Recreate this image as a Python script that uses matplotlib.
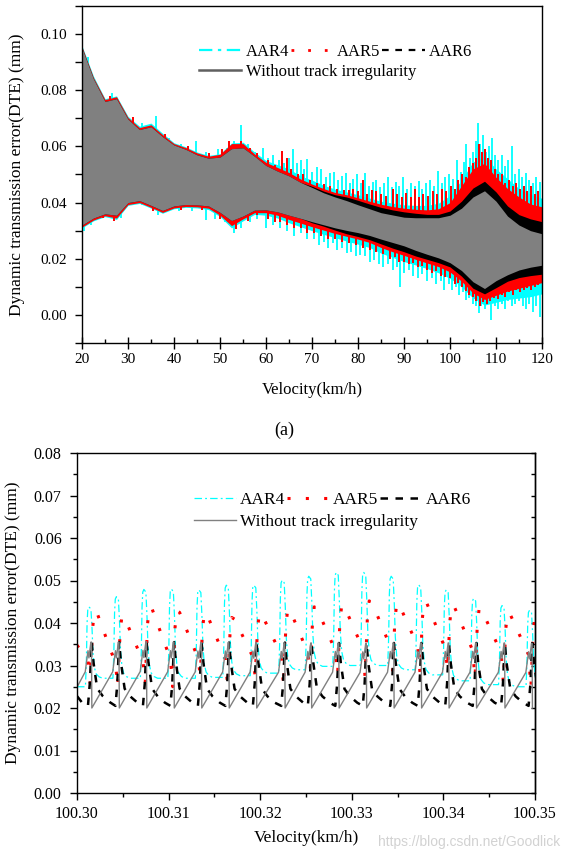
import numpy as np
import matplotlib
matplotlib.use("Agg")
import matplotlib.pyplot as plt
from matplotlib.lines import Line2D
from matplotlib.ticker import MultipleLocator, FormatStrFormatter

plt.rcParams['font.family'] = ['Liberation Serif', 'DejaVu Serif']

# ---------------- Panel (a): envelopes ----------------
vel = [20, 22.5, 25, 27.5, 30, 32.5, 35, 37.5, 40, 42.5, 45, 47.5, 50, 52.5, 55, 57.5,
       60, 62.5, 65, 67.5, 70, 72.5, 75, 77.5, 80, 82.5, 85, 87.5, 90, 92.5, 95, 97.5,
       100, 102.5, 105, 107.5, 110, 112.5, 115, 117.5, 120]

gray_hi = [0.095, 0.084, 0.076, 0.077, 0.0697, 0.066, 0.067, 0.0635, 0.0605, 0.059, 0.057,
           0.0558, 0.0562, 0.0592, 0.0595, 0.0565, 0.0532, 0.0512, 0.0495, 0.0472, 0.0454,
           0.0435, 0.042, 0.0407, 0.0392, 0.0378, 0.0364, 0.0356, 0.0348, 0.0346, 0.0346,
           0.0346, 0.0355, 0.038, 0.042, 0.0442, 0.0405, 0.0352, 0.032, 0.030, 0.0289]
gray_lo = [0.032, 0.0345, 0.036, 0.0355, 0.040, 0.0407, 0.039, 0.0372, 0.0388, 0.0393, 0.0392,
           0.0388, 0.0365, 0.0336, 0.0352, 0.0373, 0.0374, 0.0367, 0.0355, 0.0344, 0.0332,
           0.0321, 0.031, 0.0301, 0.0293, 0.0283, 0.027, 0.0258, 0.0246, 0.0230, 0.0216,
           0.0203, 0.0186, 0.0158, 0.0118, 0.0094, 0.0122, 0.0143, 0.016, 0.017, 0.0177]

aar6_hi = [0.095, 0.084, 0.076, 0.077, 0.0697, 0.066, 0.067, 0.0635, 0.0605, 0.059, 0.057,
           0.0558, 0.0562, 0.0592, 0.0595, 0.0565, 0.0532, 0.0512, 0.0495, 0.0472, 0.0458,
           0.0441, 0.0428, 0.042, 0.0408, 0.0395, 0.0383, 0.0374, 0.0367, 0.0362, 0.0358,
           0.0358, 0.037, 0.0405, 0.0452, 0.0476, 0.0438, 0.0388, 0.0357, 0.0342, 0.0332]
aar6_lo = [0.032, 0.0345, 0.036, 0.0355, 0.040, 0.0407, 0.039, 0.0372, 0.0388, 0.0393, 0.0392,
           0.0388, 0.0365, 0.0336, 0.0352, 0.0373, 0.0374, 0.0367, 0.0355, 0.0344, 0.0328,
           0.0316, 0.0302, 0.0289, 0.0279, 0.0268, 0.0253, 0.0238, 0.0225, 0.021, 0.0198,
           0.0186, 0.0171, 0.0138, 0.0095, 0.0075, 0.0097, 0.012, 0.0133, 0.014, 0.0145]

aar5_hi = [0.0955, 0.0845, 0.0767, 0.0777, 0.0703, 0.0667, 0.0677, 0.0642, 0.061, 0.0596, 0.0577,
           0.0565, 0.0572, 0.061, 0.061, 0.0573, 0.0543, 0.0525, 0.0507, 0.0484, 0.0466,
           0.0450, 0.0436, 0.0428, 0.0417, 0.0405, 0.0394, 0.0386, 0.0380, 0.0376, 0.0374,
           0.0378, 0.040, 0.046, 0.052, 0.054, 0.049, 0.045, 0.042, 0.0395, 0.0385]
aar5_lo = [0.0313, 0.0338, 0.0353, 0.0345, 0.0393, 0.040, 0.0383, 0.0365, 0.0381, 0.0386, 0.0385,
           0.038, 0.0355, 0.0318, 0.0342, 0.0364, 0.0364, 0.0355, 0.034, 0.0327, 0.0314,
           0.0302, 0.029, 0.028, 0.027, 0.0258, 0.024, 0.0225, 0.0212, 0.0198, 0.0185,
           0.0172, 0.0153, 0.012, 0.0078, 0.0055, 0.007, 0.0085, 0.0095, 0.0105, 0.0115]

aar4_hi = [0.0958, 0.085, 0.077, 0.078, 0.0707, 0.0672, 0.0683, 0.0647, 0.0613, 0.0599, 0.058,
           0.0568, 0.0574, 0.0612, 0.0615, 0.058, 0.055, 0.0535, 0.052, 0.0495, 0.048,
           0.0462, 0.0448, 0.0438, 0.0428, 0.0416, 0.0405, 0.0398, 0.0392, 0.0390, 0.0390,
           0.0398, 0.0425, 0.048, 0.0545, 0.0565, 0.052, 0.0485, 0.045, 0.043, 0.0415]
aar4_lo = [0.031, 0.0335, 0.035, 0.034, 0.039, 0.0397, 0.038, 0.0362, 0.0378, 0.0383, 0.0381,
           0.0375, 0.035, 0.031, 0.0335, 0.0358, 0.0355, 0.0345, 0.0328, 0.0314, 0.030,
           0.0287, 0.0275, 0.0263, 0.0252, 0.024, 0.022, 0.0205, 0.019, 0.0178, 0.0165,
           0.015, 0.013, 0.010, 0.006, 0.0035, 0.0045, 0.0055, 0.006, 0.0065, 0.0075]

# isolated spikes (velocity, value)
aar4_spk_hi_x = [21.3, 23.5, 26.5, 29, 33, 36.0, 39, 41.5, 44.8, 47, 49.5, 51.5, 53, 54.6,
                 56.0, 57.5, 59.4, 60.5, 61.5, 62.8, 64.0, 65.0, 65.9, 66.8, 67.5, 68.3, 69.0,
                 70.0, 71.0, 72.0, 73.0, 74.0, 74.8, 75.7, 76.5, 77.3, 78.2, 79.0, 79.8, 80.7,
                 81.5, 82.3, 83.2, 84.0, 84.8, 85.7, 86.5, 87.3, 88.2, 89.0, 89.8, 90.7, 91.5,
                 92.3, 93.2, 94.0, 94.8, 95.7, 96.5, 97.3, 98.2, 99.0, 99.8, 100.7, 101.5, 102.3,
                 103.0, 103.5, 104.3, 105.0, 105.6, 106.0, 106.6, 107.2, 107.8, 108.5, 109.2,
                 109.8, 110.5, 111.2, 112.0, 112.7, 113.5, 114.2, 115.0, 115.7, 116.5, 117.2,
                 118.0, 118.7, 119.5]
aar4_spk_hi_y = [0.092, 0.081, 0.079, 0.073, 0.0685, 0.071, 0.063, 0.061, 0.062, 0.058, 0.059,
                 0.0595, 0.062, 0.0675,
                 0.061, 0.058, 0.0596, 0.056, 0.057, 0.055, 0.054, 0.056, 0.059, 0.054, 0.055,
                 0.052, 0.0555, 0.051, 0.0525, 0.052, 0.049, 0.0505, 0.051, 0.048, 0.0495,
                 0.0505, 0.047, 0.0485, 0.050, 0.047, 0.0505, 0.046, 0.0475, 0.048, 0.0455,
                 0.047, 0.049, 0.0455, 0.0475, 0.046, 0.049, 0.045, 0.047, 0.046, 0.0478, 0.045,
                 0.047, 0.048, 0.046, 0.0514, 0.047, 0.049, 0.050, 0.0485, 0.055, 0.051, 0.0545,
                 0.0608, 0.056, 0.058, 0.062, 0.0685, 0.061, 0.064, 0.058, 0.060, 0.063, 0.057,
                 0.055, 0.057, 0.053, 0.055, 0.060, 0.050, 0.052, 0.049, 0.0505, 0.048, 0.047,
                 0.049, 0.0475]
aar4_spk_lo_x = [20.5, 22, 24, 28.5, 33, 36.5, 41, 44, 47.0, 49, 51, 53.0, 54.5,
                 56.5, 58.0, 60.0, 61.5, 63.0, 64.5, 66.0, 67.5, 69.0, 70.5, 71.5, 72.5, 73.5,
                 74.5, 75.5, 76.5, 77.5, 78.5, 79.5, 80.5, 81.5, 82.5, 83.5, 84.5, 85.5, 86.5,
                 87.5, 88.5, 89.2, 90.0, 91.0, 92.0, 93.0, 94.0, 95.0, 96.0, 97.0, 98.0, 98.8,
                 99.7, 100.5, 101.3, 102.0, 102.8, 103.5, 104.2, 105.0, 105.6, 106.2, 106.8,
                 107.5, 108.2, 109.0, 109.7, 110.5, 111.2, 112.0, 112.7, 113.5, 114.2, 115.0,
                 115.8, 116.5, 117.2, 118.0, 118.8, 119.5]
aar4_spk_lo_y = [0.030, 0.032, 0.034, 0.0345, 0.039, 0.0355, 0.037, 0.037, 0.0337, 0.034, 0.033,
                 0.029, 0.031,
                 0.033, 0.034, 0.031, 0.032, 0.031, 0.030, 0.028, 0.029, 0.027, 0.027, 0.025,
                 0.026, 0.024, 0.0255, 0.023, 0.024, 0.022, 0.0225, 0.021, 0.0215, 0.021, 0.019,
                 0.0195, 0.0183, 0.017, 0.018, 0.016, 0.017, 0.010, 0.015, 0.016, 0.014, 0.013,
                 0.0145, 0.012, 0.013, 0.011, 0.012, 0.009, 0.011, 0.009, 0.010, 0.007, 0.008,
                 0.0053, 0.006, 0.004, 0.003, 0.0006, 0.003, 0.002, 0.004, -0.0018, 0.003, 0.002,
                 0.004, 0.002, 0.005, 0.003, 0.004, 0.005, 0.003, 0.002, 0.004, 0.001, 0.003,
                 -0.0006]
aar5_spk_hi_x = [23, 26, 31, 34, 38, 43, 47.5, 50.5, 52, 54.5, 56.5, 58,
                 60.5, 62.0, 63.5, 64.5, 65.5, 67.0, 68.0, 69.5, 71.0, 72.5, 74.0, 75.5, 77.0,
                 78.0, 79.0, 80.0, 81.0, 82.0, 83.0, 84.0, 85.0, 86.0, 87.5, 88.5, 89.5, 90.5,
                 91.5, 92.3, 93.2, 94.2, 95.2, 96.2, 97.2, 98.2, 99.2, 100.2, 101.0, 101.8,
                 102.6, 103.4, 104.2, 105.0, 105.7, 106.3, 107.0, 107.6, 108.3, 109.0, 109.8,
                 110.5, 111.3, 112.0, 112.8, 113.6, 114.4, 115.2, 116.0, 116.8, 117.6, 118.4,
                 119.2]
aar5_spk_hi_y = [0.0805, 0.078, 0.0705, 0.067, 0.0645, 0.060, 0.0575, 0.059, 0.062, 0.062,
                 0.0595, 0.0575,
                 0.055, 0.0535, 0.0584, 0.056, 0.052, 0.050, 0.050, 0.048, 0.047, 0.0465, 0.046,
                 0.045, 0.0445, 0.0445, 0.045, 0.044, 0.048, 0.043, 0.0445, 0.044, 0.043,
                 0.0425, 0.045, 0.043, 0.042, 0.0435, 0.042, 0.045, 0.042, 0.043, 0.0425, 0.044,
                 0.043, 0.045, 0.044, 0.046, 0.045, 0.048, 0.050, 0.049, 0.0525, 0.054, 0.056,
                 0.061, 0.058, 0.059, 0.056, 0.055, 0.052, 0.050, 0.050, 0.047, 0.048, 0.046,
                 0.047, 0.045, 0.046, 0.044, 0.046, 0.043, 0.044]
aar5_spk_lo_x = [24.5, 27, 35.5, 41.5, 46, 50, 53.5, 56, 58,
                 60.5, 62.0, 63.0, 64.5, 66.0, 67.5, 69.0, 70.5, 72.0, 73.5, 75.0, 76.5, 78.0,
                 79.5, 81.0, 82.5, 84.0, 85.5, 87.0, 88.0, 89.0, 90.0, 91.0, 92.0, 93.0, 94.0,
                 95.0, 96.0, 97.0, 98.0, 99.0, 100.0, 101.0, 101.8, 102.6, 103.4, 104.2, 105.0,
                 105.7, 106.5, 107.2, 108.0, 108.8, 109.6, 110.4, 111.2, 112.0, 112.8, 113.6,
                 114.4, 115.2, 116.0, 116.8, 117.6, 118.4, 119.2]
aar5_spk_lo_y = [0.0345, 0.0335, 0.037, 0.0375, 0.0375, 0.034, 0.0305, 0.0335, 0.0355,
                 0.034, 0.033, 0.033, 0.032, 0.031, 0.031, 0.029, 0.029, 0.028, 0.027, 0.027,
                 0.026, 0.0255, 0.025, 0.024, 0.023, 0.0225, 0.0218, 0.020, 0.0205, 0.019, 0.019,
                 0.018, 0.0185, 0.017, 0.0175, 0.016, 0.015, 0.0155, 0.014, 0.0136, 0.013, 0.011,
                 0.0115, 0.010, 0.0085, 0.007, 0.0065, 0.005, 0.003, 0.0045, 0.004, 0.005, 0.006,
                 0.0055, 0.007, 0.0065, 0.008, 0.007, 0.009, 0.008, 0.009, 0.0095, 0.009, 0.010,
                 0.0105]

# ---------------- Panel (b): per-cycle values ----------------
peak_v = [100.3016, 100.3046, 100.3076, 100.3106, 100.3136, 100.3166, 100.3196, 100.3227,
          100.3256, 100.3286, 100.3316, 100.3346, 100.3376, 100.3406, 100.3436, 100.3467, 100.3497]
gray_peak = [0.0355, 0.0355, 0.0356, 0.0355, 0.0354, 0.0354, 0.0354, 0.0353, 0.0353, 0.0353,
             0.0352, 0.0353, 0.0353, 0.0353, 0.0353, 0.0353, 0.0352]
gray_trough = [0.0200, 0.0200, 0.0200, 0.0200, 0.0200, 0.0200, 0.0200, 0.0200, 0.0200, 0.0200,
               0.0200, 0.0200, 0.0200, 0.0200, 0.0200, 0.0200, 0.0200]
aar4_peak = [0.0438, 0.0462, 0.0479, 0.0480, 0.0478, 0.0489, 0.0489, 0.0501, 0.0510, 0.0519,
             0.0519, 0.0510, 0.0490, 0.0478, 0.0458, 0.0441, 0.0430]
aar4_base = [0.0250, 0.0270, 0.0270, 0.0270, 0.0270, 0.0272, 0.0276, 0.0282, 0.0290, 0.0298,
             0.0300, 0.0300, 0.0290, 0.0278, 0.0264, 0.0255, 0.0250, 0.0250]
aar6_peak = [0.0355, 0.0355, 0.0355, 0.0355, 0.0354, 0.0354, 0.0354, 0.0354, 0.0353, 0.0353,
             0.0353, 0.0353, 0.0353, 0.0353, 0.0353, 0.0353, 0.0353]
aar6_trough = [0.0206, 0.0205, 0.0205, 0.0205, 0.0205, 0.0205, 0.0205, 0.0205, 0.0205, 0.0205,
               0.0205, 0.0205, 0.0205, 0.0205, 0.0205, 0.0205, 0.0205]
aar5_peak = [0.0427, 0.0416, 0.0437, 0.0429, 0.0424, 0.0413, 0.0423, 0.0432, 0.0438, 0.0442,
             0.0452, 0.0446, 0.0450, 0.0442, 0.0434, 0.0424, 0.0420]
aar5_dip = [0.0258, 0.0250, 0.0258, 0.0250, 0.0278, 0.0250, 0.0274, 0.0250, 0.0284, 0.0278,
            0.0272, 0.0284, 0.0282, 0.0290, 0.0270, 0.0260, 0.0247]
aar5_pre = [0.0310, 0.0305, 0.0310, 0.0315, 0.0318, 0.0315, 0.0320, 0.0325, 0.0330, 0.0335,
            0.0340, 0.0345, 0.0345, 0.0340, 0.0335, 0.0330, 0.0325]
start_vals = {'gray': 0.0249, 'aar6': 0.0228, 'aar5': 0.0348}

CYAN, RED, BLACK, GRAY = '#00FFFF', '#FF0000', '#000000', '#808080'
LS4 = (0, (6, 2.5, 1.5, 2.5))
LS5 = (0, (1.0, 5.5))
LS6 = (0, (3.0, 3.4))

fig = plt.figure(figsize=(5.72, 8.60), dpi=100)
W, H = 572.0, 860.0

# ======================= Panel (a) =======================
ax1 = fig.add_axes([82 / W, 1 - 343 / H, 460 / W, 337 / H])
ax1.fill_between(vel, aar4_lo, aar4_hi, color=CYAN, lw=0, zorder=1.0)
b4h = np.interp(aar4_spk_hi_x, vel, gray_hi) - 0.002
b4l = np.interp(aar4_spk_lo_x, vel, gray_lo) + 0.002
ax1.vlines(aar4_spk_hi_x, b4h, aar4_spk_hi_y, color=CYAN, lw=1.3, zorder=1.1)
ax1.vlines(aar4_spk_lo_x, aar4_spk_lo_y, b4l, color=CYAN, lw=1.3, zorder=1.1)
ax1.fill_between(vel, aar5_lo, aar5_hi, color=RED, lw=0, zorder=1.2)
b5h = np.interp(aar5_spk_hi_x, vel, gray_hi) - 0.002
b5l = np.interp(aar5_spk_lo_x, vel, gray_lo) + 0.002
ax1.vlines(aar5_spk_hi_x, b5h, aar5_spk_hi_y, color=RED, lw=1.4, zorder=1.3)
ax1.vlines(aar5_spk_lo_x, aar5_spk_lo_y, b5l, color=RED, lw=1.4, zorder=1.3)
ax1.fill_between(vel, aar6_lo, aar6_hi, color=BLACK, lw=0, zorder=1.4)
ax1.fill_between(vel, gray_lo, gray_hi, color=GRAY, lw=0, zorder=1.5)

ax1.set_xlim(20, 120)
ax1.set_ylim(-0.01, 0.11)
ax1.xaxis.set_major_locator(MultipleLocator(10))
ax1.xaxis.set_minor_locator(MultipleLocator(5))
ax1.yaxis.set_minor_locator(MultipleLocator(0.01))
ax1.set_yticks([0.0, 0.02, 0.04, 0.06, 0.08, 0.10])
ax1.yaxis.set_major_formatter(FormatStrFormatter('%.2f'))
ax1.tick_params(axis='x', which='major', direction='inout', length=8, width=1, labelsize=11, pad=3)
ax1.tick_params(axis='x', which='minor', direction='in', length=3, width=1)
ax1.tick_params(axis='y', which='both', direction='out', length=5, width=1, labelsize=11, pad=6)
for s in ax1.spines.values():
    s.set_linewidth(1.0)
ax1.set_xlabel('Velocity(km/h)', fontsize=12)
ax1.xaxis.set_label_coords(0.5, -0.115)
ax1.set_ylabel('Dynamic transmission error(DTE) (mm)', fontsize=12.5)
ax1.yaxis.set_label_coords(-0.124, 0.5)

h_a = [Line2D([], [], color=CYAN, lw=1.6, ls=LS4),
       Line2D([], [], color=RED, lw=2.0, ls=(0, (1.0, 5.0))),
       Line2D([], [], color=BLACK, lw=1.6, ls=(0, (3.0, 3.0)))]
leg1 = ax1.legend(h_a, ['AAR4', 'AAR5', 'AAR6'], ncol=3, loc='center left',
                  bbox_to_anchor=(0.254, 0.8635), frameon=False, fontsize=12,
                  handlelength=2.55, handletextpad=0.25, columnspacing=0.1,
                  borderpad=0, borderaxespad=0)
ax1.add_artist(leg1)
ax1.legend([Line2D([], [], color='#606060', lw=1.8)], ['Without track irregularity'],
           loc='center left', bbox_to_anchor=(0.254, 0.804), frameon=False, fontsize=12,
           handlelength=2.55, handletextpad=0.25, borderpad=0, borderaxespad=0)

fig.text(284 / W, 1 - 430 / H, '(a)', ha='center', va='center', fontsize=13)

# ======================= Panel (b) =======================
x0 = 100.30
# gray: saw-tooth (ramp, notch, vertical drop)
gx, gy = [x0], [start_vals['gray']]
for t, pk, lo in zip(peak_v, gray_peak, gray_trough):
    a = pk - lo
    gx += [t - 0.0007, t - 0.0004, t - 0.0003, t - 0.00008, t - 0.00002, t + 0.00002]
    gy += [lo + 0.55 * a, lo + 0.87 * a, lo + 0.76 * a, pk, pk, lo]

# AAR6: steep rise to peak, steep then slow decay
bx, by = [x0, 100.3008], [start_vals['aar6'], aar6_trough[0]]
for t, pk, lo in zip(peak_v, aar6_peak, aar6_trough):
    a = pk - lo
    bx += [t - 0.0004, t - 0.0002, t, t + 0.0002, t + 0.0006, t + 0.0012, t + 0.0020]
    by += [lo, lo + 0.35 * a, pk, lo + 0.68 * a, lo + 0.27 * a, lo + 0.15 * a, lo + 0.05 * a]

# AAR4: flat base, narrow high rounded peak
cx, cy = [x0], [aar4_base[0]]
for k, (t, pk) in enumerate(zip(peak_v, aar4_peak)):
    b0, b1 = aar4_base[k], aar4_base[k + 1]
    cx += [t - 0.00068, t - 0.00058, t - 0.0005, t - 0.00042, t - 0.0003, t - 0.00008,
           t + 0.00004, t + 0.00015, t + 0.0003, t + 0.0005, t + 0.0008, t + 0.0012]
    cy += [b0, b0 + 0.3 * (pk - b0), b0 + 0.8 * (pk - b0), b0 + 0.97 * (pk - b0), pk,
           b1 + 0.97 * (pk - b1), b1 + 0.7 * (pk - b1), b1 + 0.35 * (pk - b1),
           b1 + 0.15 * (pk - b1), b1 + 0.06 * (pk - b1), b1 + 0.02 * (pk - b1), b1]

# AAR5: slow decay, short dip, fast rise
rx, ry = [x0], [start_vals['aar5']]
for t, pk, dp, pre in zip(peak_v, aar5_peak, aar5_dip, aar5_pre):
    rx += [t - 0.0004, t - 0.00015, t + 0.0001, t + 0.0003, t + 0.0006]
    ry += [pre, dp, pk - 0.004, pk, pk - 0.0004]

ax2 = fig.add_axes([77 / W, 1 - 793 / H, 458 / W, 340 / H])
ax2.plot(cx, cy, color=CYAN, lw=0.9, ls=LS4)
ax2.plot(rx, ry, color=RED, lw=2.2, ls=LS5)
ax2.plot(bx, by, color=BLACK, lw=1.8, ls=LS6)
ax2.plot(gx, gy, color=GRAY, lw=1.0)

ax2.set_xlim(100.30, 100.35)
ax2.set_ylim(0, 0.08)
ax2.xaxis.set_major_locator(MultipleLocator(0.01))
ax2.xaxis.set_minor_locator(MultipleLocator(0.005))
ax2.xaxis.set_major_formatter(FormatStrFormatter('%.2f'))
ax2.yaxis.set_major_locator(MultipleLocator(0.01))
ax2.yaxis.set_minor_locator(MultipleLocator(0.005))
ax2.yaxis.set_major_formatter(FormatStrFormatter('%.2f'))
ax2.tick_params(which='major', direction='out', length=5, width=1, labelsize=11.5, pad=4)
ax2.tick_params(which='minor', direction='out', length=3, width=1)
ax2.tick_params(axis='y', which='major', pad=6)
for s in ax2.spines.values():
    s.set_linewidth(1.0)
sec = ax2.secondary_yaxis('right')
sec.yaxis.set_major_locator(MultipleLocator(0.005))
sec.tick_params(direction='in', length=3, width=1, labelright=False)
sec.spines['right'].set_linewidth(1.0)
ax2.set_xlabel('Velocity(km/h)', fontsize=12.5)
ax2.xaxis.set_label_coords(0.5, -0.11)
ax2.set_ylabel('Dynamic transmission error(DTE) (mm)', fontsize=12.5)
ax2.yaxis.set_label_coords(-0.122, 0.5)

h_b = [Line2D([], [], color=CYAN, lw=0.9, ls=LS4),
       Line2D([], [], color=RED, lw=2.2, ls=(0, (1.0, 5.0))),
       Line2D([], [], color=BLACK, lw=1.8, ls=(0, (3.0, 3.0)))]
leg2 = ax2.legend(h_b, ['AAR4', 'AAR5', 'AAR6'], ncol=3, loc='center left',
                  bbox_to_anchor=(0.2555, 0.862), frameon=False, fontsize=12.5,
                  handlelength=2.4, handletextpad=0.25, columnspacing=0.1,
                  borderpad=0, borderaxespad=0)
ax2.add_artist(leg2)
ax2.legend([Line2D([], [], color=GRAY, lw=1.0)], ['Without track irregularity'],
           loc='center left', bbox_to_anchor=(0.2555, 0.797), frameon=False, fontsize=12.5,
           handlelength=2.4, handletextpad=0.25, borderpad=0, borderaxespad=0)

fig.text(560 / W, 1 - 842 / H, 'https://blog.csdn.net/Goodlick', ha='right', va='center',
         color='#d2d2d2', fontsize=10, family=['Liberation Sans', 'DejaVu Sans'])

fig.savefig('out.png', dpi=100)
